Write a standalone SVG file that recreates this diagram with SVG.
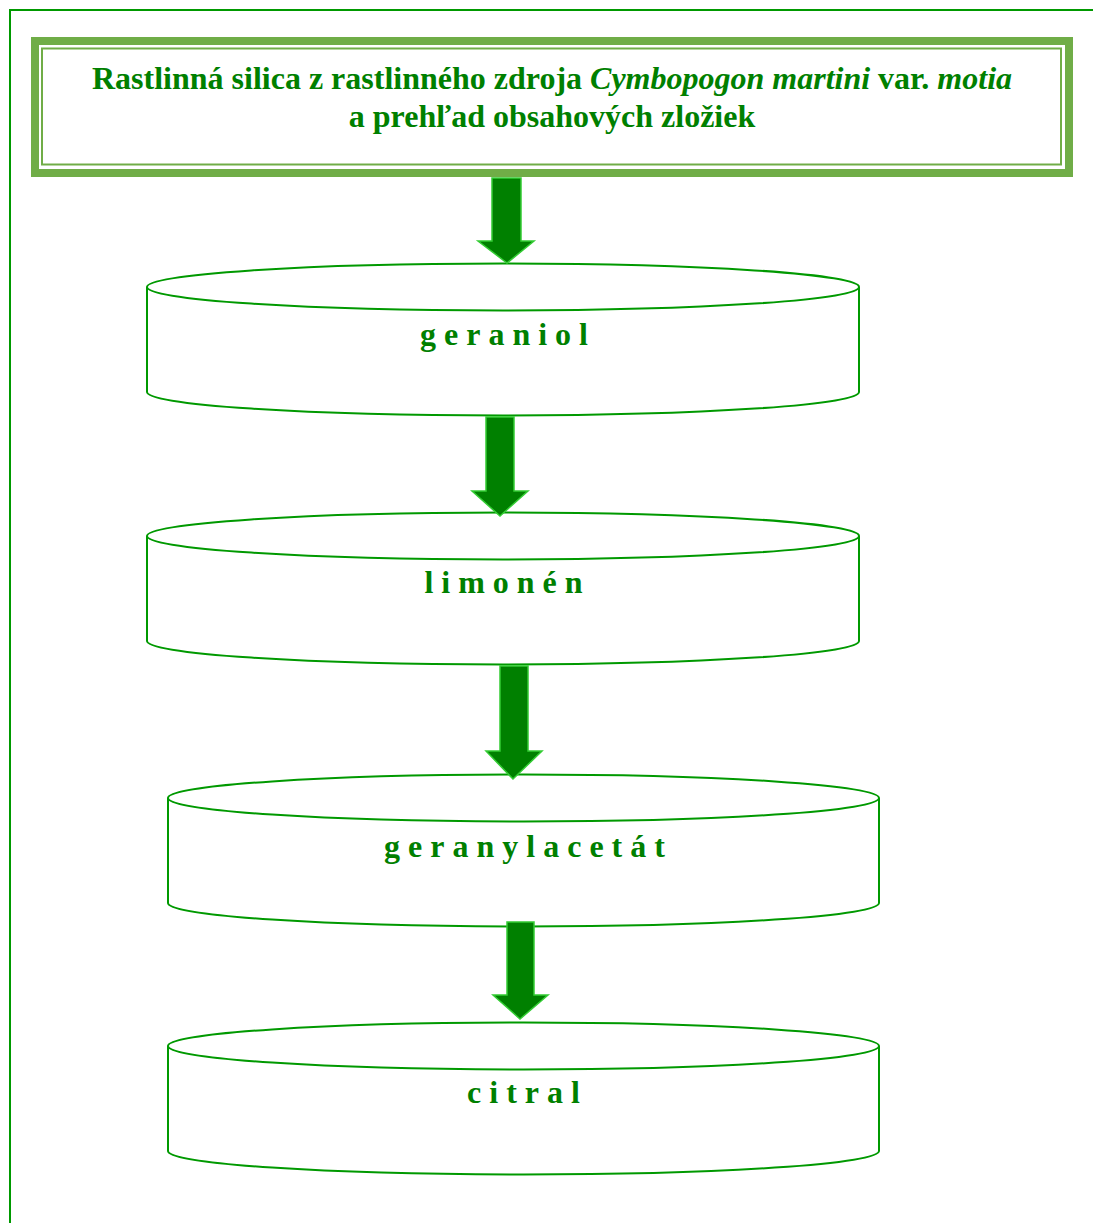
<svg xmlns="http://www.w3.org/2000/svg" width="1093" height="1223" viewBox="0 0 1093 1223">
<style>
.frame{fill:none;stroke:#009900;stroke-width:2}
.cyl{fill:#ffffff;stroke:#009900;stroke-width:2}
.arrow{fill:#008000;stroke:#33cc33;stroke-width:1.5;stroke-linejoin:miter}
.title{font-family:"Liberation Serif","Times New Roman",serif;font-weight:bold;font-size:32px;fill:#008000;text-anchor:middle}
.lbl{font-family:"Liberation Serif","Times New Roman",serif;font-weight:bold;font-size:32px;fill:#008000;letter-spacing:8px;text-anchor:middle}
</style>
<rect width="1093" height="1223" fill="#ffffff"/>
<rect class="frame" x="10" y="10" width="1100" height="1230"/>
<g id="title">
<rect x="35" y="41" width="1034" height="132" fill="#ffffff" stroke="#70AD47" stroke-width="8"/>
<rect x="42" y="48.5" width="1019" height="116" fill="none" stroke="#70AD47" stroke-width="2"/>
<text class="title" x="552" y="89">Rastlinná silica z rastlinného zdroja <tspan font-style="italic">Cymbopogon martini</tspan> var. <tspan font-style="italic">motia</tspan></text>
<text class="title" x="552" y="127">a prehľad obsahových zložiek</text>
</g>
<g id="geraniol">
<path class="cyl" d="M147,287 A356,23.5 0 0 1 859,287 V392 A356,23.5 0 0 1 147,392 Z"/>
<path class="cyl" fill="none" d="M147,287 A356,23.5 0 0 0 859,287"/>
<text class="lbl" x="508" y="345">geraniol</text>
</g>
<g id="limonen">
<path class="cyl" d="M147,536 A356,23.5 0 0 1 859,536 V641 A356,23.5 0 0 1 147,641 Z"/>
<path class="cyl" fill="none" d="M147,536 A356,23.5 0 0 0 859,536"/>
<text class="lbl" x="507.5" y="593">limonén</text>
</g>
<g id="geranylacetat">
<path class="cyl" d="M168,798 A355.5,23.5 0 0 1 879,798 V903 A355.5,23.5 0 0 1 168,903 Z"/>
<path class="cyl" fill="none" d="M168,798 A355.5,23.5 0 0 0 879,798"/>
<text class="lbl" x="528.5" y="857">geranylacetát</text>
</g>
<g id="citral">
<path class="cyl" d="M168,1046 A355.5,23.5 0 0 1 879,1046 V1151 A355.5,23.5 0 0 1 168,1151 Z"/>
<path class="cyl" fill="none" d="M168,1046 A355.5,23.5 0 0 0 879,1046"/>
<text class="lbl" x="527.5" y="1103">citral</text>
</g>
<g id="connectors">
<polygon class="arrow" points="492,178 521,178 521,241 534,241 507,263 478,241 492,241"/>
<polygon class="arrow" points="486,417 514,417 514,491 528,491 500,516 472,491 486,491"/>
<polygon class="arrow" points="500,666 528,666 528,751 542,751 513,779 486,751 500,751"/>
<polygon class="arrow" points="507,922 534,922 534,995 548,995 520,1019 493,995 507,995"/>
</g>
</svg>
